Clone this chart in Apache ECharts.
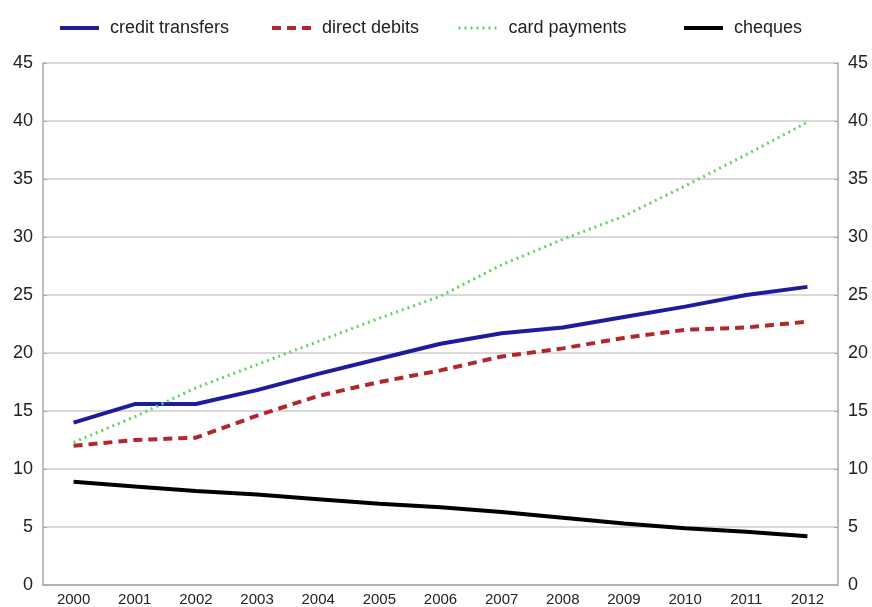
<!DOCTYPE html>
<html>
<head>
<meta charset="utf-8">
<script src="https://cdn.jsdelivr.net/npm/echarts@6/dist/echarts.min.js"></script>
<style>html,body{margin:0;padding:0;background:#fff;}#chart{width:872px;height:607px;}</style>
</head>
<body>
<div id="chart"></div>
<script>
var years = ['2000','2001','2002','2003','2004','2005','2006','2007','2008','2009','2010','2011','2012'];
var creditTransfers = [14.0, 15.6, 15.6, 16.8, 18.2, 19.5, 20.8, 21.7, 22.2, 23.1, 24.0, 25.0, 25.7];
var directDebits = [12.0, 12.5, 12.7, 14.6, 16.3, 17.5, 18.5, 19.7, 20.4, 21.3, 22.0, 22.2, 22.7];
var cardPayments = [12.3, 14.5, 17.0, 19.0, 21.0, 23.0, 24.9, 27.6, 29.8, 31.8, 34.4, 37.1, 39.9];
var cheques = [8.9, 8.5, 8.1, 7.8, 7.4, 7.0, 6.7, 6.3, 5.8, 5.3, 4.9, 4.6, 4.2];
var yTicks = [0, 5, 10, 15, 20, 25, 30, 35, 40, 45];

var FONT = 'Liberation Sans';
var chart = echarts.init(document.getElementById('chart'));
function legendAt(name, left, lw) {
  return {
    data: [name], left: left, top: 14, itemWidth: 39, itemHeight: 14,
    itemStyle: { opacity: 0 },
    lineStyle: { width: lw },
    textStyle: { fontFamily: FONT, fontSize: 18, color: '#222', padding: [0, 0, 0, 6] }
  };
}
var yCommon = {
  type: 'value', min: yTicks[0], max: yTicks[yTicks.length - 1], interval: 5,
  axisLine: { show: true, lineStyle: { color: '#a8a8a8', width: 1.5 } },
  axisTick: { show: true, inside: true, length: 4, lineStyle: { color: '#a8a8a8' } },
  axisLabel: { fontFamily: FONT, fontSize: 18, color: '#222', margin: 10 }
};
chart.setOption({
  animation: false,
  backgroundColor: '#fff',
  legend: [
    legendAt('credit transfers', 53, 4),
    legendAt('direct debits', 265, 4),
    legendAt('card payments', 452, 3),
    legendAt('cheques', 677, 4)
  ],
  grid: { left: 43, right: 34, top: 63, bottom: 22, containLabel: false },
  xAxis: {
    type: 'category', data: years, boundaryGap: true,
    axisLine: { lineStyle: { color: '#a8a8a8', width: 1.5 } },
    axisTick: { inside: true, alignWithLabel: true, length: 5, lineStyle: { color: '#a8a8a8' } },
    axisLabel: { fontFamily: FONT, fontSize: 15, color: '#222', margin: 7 }
  },
  yAxis: [
    Object.assign({}, yCommon, { position: 'left',
      splitLine: { show: true, lineStyle: { color: '#d9d9d9', width: 2 } } }),
    Object.assign({}, yCommon, { position: 'right', splitLine: { show: false } })
  ],
  series: [
    { name: 'credit transfers', type: 'line', data: creditTransfers, symbol: 'none',
      color: '#1c1c9c', lineStyle: { color: '#1c1c9c', width: 4 } },
    { name: 'direct debits', type: 'line', data: directDebits, symbol: 'none',
      color: '#b0282c', lineStyle: { color: '#b0282c', width: 4, type: [9, 6] } },
    { name: 'card payments', type: 'line', data: cardPayments, symbol: 'none',
      color: '#5fd35f', lineStyle: { color: '#5fd35f', width: 3, type: [2, 4] } },
    { name: 'cheques', type: 'line', data: cheques, symbol: 'none',
      color: '#000000', lineStyle: { color: '#000000', width: 4 } }
  ]
});
</script>
</body>
</html>
